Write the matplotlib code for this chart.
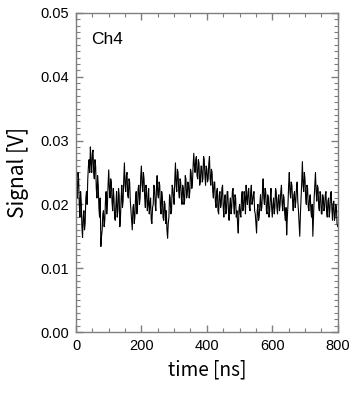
import numpy as np
import matplotlib
matplotlib.use('Agg')
import matplotlib.pyplot as plt
from matplotlib.ticker import MultipleLocator

# time axis [ns], one sample every 2 ns
time_ns = np.arange(0, 801, 2)

# signal, in mV (20 samples = 40 ns per row)
signal_mv = [
    26.5, 23, 21, 25, 24, 20, 18, 22, 20.5, 16.5, 14.8, 18, 19, 16, 17, 21, 22, 20, 24, 26,
    27, 25, 29, 26.5, 25, 28, 28.5, 25, 24, 27, 26, 22.5, 21, 24.5, 23, 19.5, 18, 21, 13.4, 15,
    16, 18.5, 19, 16.5, 17.5, 20.5, 22, 18.5, 20, 23, 25.4, 22.5, 21, 24, 23.5, 20.5, 19, 22.5, 21, 18,
    17.5, 20, 22, 18, 19, 22.5, 21.5, 16.5, 18, 21, 23, 19.5, 20.5, 24, 26.5, 23, 22, 24.5, 25, 21.5,
    21, 24, 23.5, 20.5, 19, 17.5, 16, 19.5, 20, 17, 18, 21, 22, 18.5, 19.5, 22.5, 23, 20, 21, 24.5,
    26, 23, 22, 25, 24, 21, 19.5, 23, 22, 19, 20, 22.5, 18.5, 20, 21, 17.5, 17, 19.5, 20, 23,
    22.5, 20, 19, 22.5, 24.5, 21.5, 21, 23.5, 23, 19.5, 18.5, 22, 21, 18, 17.5, 20.5, 20, 17, 19, 16,
    14.7, 17, 18, 21.5, 21, 18.5, 19, 23, 22.5, 21, 20, 24, 26.5, 23, 22, 25.5, 25, 22, 21, 24,
    23.5, 21, 20, 23, 22.5, 20, 20.5, 24.5, 24, 21, 21.5, 23.5, 23, 21, 22, 25.5, 25, 22.5, 23.5, 26,
    28, 26, 25, 27, 27.5, 24.5, 24, 27, 26.5, 23, 23.5, 26, 26, 23.5, 24, 27.5, 27, 24.5, 23, 26,
    25.5, 23.5, 24, 26.5, 27.5, 24, 23, 25.5, 25, 22, 21, 23.5, 23.5, 20.5, 19.5, 22, 22.5, 19, 18.5, 21.5,
    22, 19.5, 20, 22.5, 23, 19.5, 18, 21, 21.5, 18.5, 19, 22, 22, 19, 17.5, 20, 21, 18.5, 19.5, 22,
    22.5, 20, 18.5, 21.5, 21, 18, 19, 17, 15.5, 19, 20, 18.5, 18, 21, 22, 19, 19.5, 22, 21, 18.5,
    23, 21, 20, 22, 22.5, 19.5, 19, 22, 23, 20, 20.5, 21.5, 22, 19, 18.5, 17, 15.5, 19, 20, 17.5,
    18, 20, 21.5, 19, 19.5, 22, 24, 21, 20, 22.5, 22, 19, 18.5, 21.5, 21, 18, 19, 21, 22.5, 19.5,
    18, 20, 21, 18.5, 19.5, 22.5, 22, 19.5, 18.5, 21, 21.5, 19, 20, 22, 23, 20, 19, 21.5, 21, 18.5,
    17.5, 19.5, 15.2, 18, 20, 23, 25, 22, 21, 23.5, 23, 20.5, 19, 21.5, 22, 19.5, 20.5, 22.5, 23.5, 20.5,
    19, 17, 15, 18.5, 21, 23.5, 26.7, 23, 22, 25, 24, 21, 20, 23, 22.5, 19.5, 19, 21, 21.5, 19,
    18, 20, 15, 18, 21, 23, 25, 22, 20.5, 23, 22.5, 19.5, 19, 22, 21.5, 18.5, 18.5, 21.5, 21, 19,
    19.5, 21.5, 22, 19, 18, 20.5, 21, 18, 19, 21.5, 22, 19.5, 17.5, 20, 20.5, 17.5, 18, 20, 19.5, 17,
    16.5,
]

x_ticks = [0, 200, 400, 600, 800]
y_ticks = [0.00, 0.01, 0.02, 0.03, 0.04, 0.05]

label_font = ['Noto Sans CJK KR', 'DejaVu Sans']
tick_font = 'Liberation Sans'

fig = plt.figure(figsize=(3.59, 3.93), dpi=100)
ax = fig.add_axes([0.2117, 0.1552, 0.729, 0.812])

signal_v = np.array(signal_mv) / 1000.0
ax.plot(time_ns, signal_v, color='black', linewidth=0.8)

ax.set_xlim(0, 800)
ax.set_ylim(0, 0.05)
ax.set_xticks(x_ticks)
ax.set_yticks(y_ticks)
ax.set_xticklabels([str(t) for t in x_ticks], fontfamily=tick_font, fontsize=10.5)
ax.set_yticklabels(['%.2f' % v for v in y_ticks], fontfamily=tick_font, fontsize=10.5)
ax.xaxis.set_minor_locator(MultipleLocator(50))
ax.yaxis.set_minor_locator(MultipleLocator(0.001))

grey = '#7f7f7f'
for s in ax.spines.values():
    s.set_color(grey)
    s.set_linewidth(1.0)
ax.tick_params(which='both', direction='in', top=True, right=True, color=grey)
ax.tick_params(which='major', length=5, width=1.0, pad=5)
ax.tick_params(which='minor', length=3, width=0.8)

ax.set_xlabel('time [ns]', fontfamily=label_font, fontsize=13.8, labelpad=5)
ax.set_ylabel('Signal [V]', fontfamily=label_font, fontsize=15, labelpad=8)

ax.text(0.058, 0.94, 'Ch4', transform=ax.transAxes, fontfamily=tick_font,
        fontsize=12.5, va='top', ha='left')

fig.savefig('out.png', dpi=100)
